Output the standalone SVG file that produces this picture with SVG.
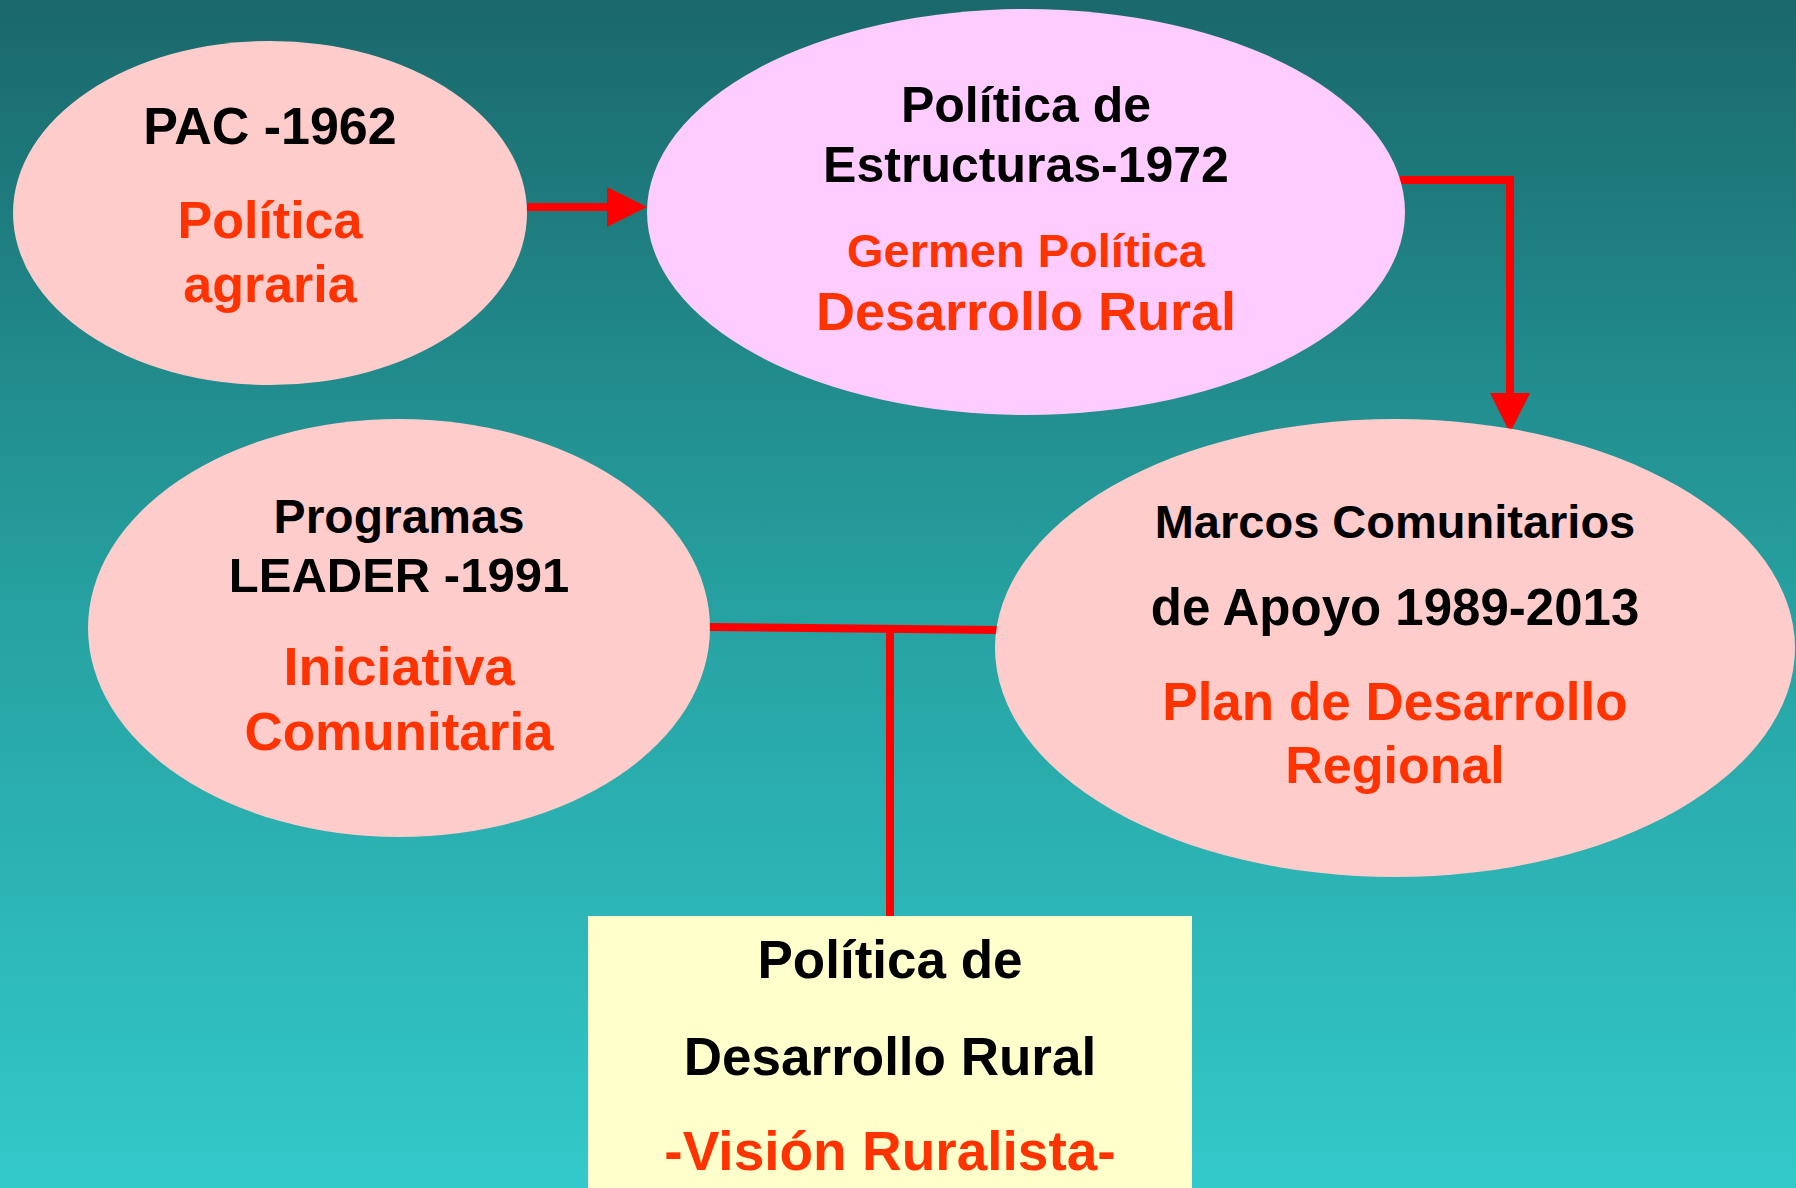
<svg xmlns="http://www.w3.org/2000/svg" width="1796" height="1188" viewBox="0 0 1796 1188">
<defs>
<linearGradient id="bg" x1="0" y1="0" x2="0" y2="1">
<stop offset="0" stop-color="#1a686b"/>
<stop offset="0.5" stop-color="#26a0a0"/>
<stop offset="1" stop-color="#33c9ca"/>
</linearGradient>
<marker id="ah" viewBox="0 0 40 40" refX="0" refY="20" markerWidth="40" markerHeight="40" markerUnits="userSpaceOnUse" orient="auto">
<path d="M0,0 L40,20 L0,40 z" fill="#ff0000"/>
</marker>
<style>
text{font-family:"Liberation Sans",Arial,sans-serif;font-weight:bold;text-anchor:middle}
.k{fill:#000000}
.r{fill:#ff3300}
.con{fill:none;stroke:#ff0000;stroke-width:8}
</style>
</defs>
<rect x="0" y="0" width="1796" height="1188" fill="url(#bg)"/>
<g id="connectors">
<path class="con" d="M527,207 H607" marker-end="url(#ah)"/>
<path class="con" d="M1400,180 H1510 V393" marker-end="url(#ah)"/>
<path class="con" d="M708,627 L997,630"/>
<path class="con" d="M890,629 V917"/>
</g>
<g id="pac">
<ellipse cx="270" cy="213" rx="257" ry="172" fill="#ffcccc"/>
<text class="k" x="270" y="144" font-size="52">PAC -1962</text>
<text class="r" x="270" y="238" font-size="52">Política</text>
<text class="r" x="270" y="302" font-size="52">agraria</text>
</g>
<g id="estructuras">
<ellipse cx="1026" cy="212" rx="379" ry="203" fill="#ffccff"/>
<text class="k" x="1026" y="122" font-size="50">Política de</text>
<text class="k" x="1026" y="182" font-size="50">Estructuras-1972</text>
<text class="r" x="1026" y="267" font-size="47">Germen Política</text>
<text class="r" x="1026" y="330" font-size="54">Desarrollo Rural</text>
</g>
<g id="leader">
<ellipse cx="399" cy="628" rx="311" ry="209" fill="#ffcccc"/>
<text class="k" x="399" y="533" font-size="48">Programas</text>
<text class="k" x="399" y="592" font-size="49">LEADER -1991</text>
<text class="r" x="399" y="685" font-size="54">Iniciativa</text>
<text class="r" x="399" y="750" font-size="53">Comunitaria</text>
</g>
<g id="marcos">
<ellipse cx="1395" cy="648" rx="400" ry="229" fill="#ffcccc"/>
<text class="k" x="1395" y="538" font-size="47">Marcos Comunitarios</text>
<text class="k" x="1395" y="625" font-size="51">de Apoyo 1989-2013</text>
<text class="r" x="1395" y="720" font-size="53">Plan de Desarrollo</text>
<text class="r" x="1395" y="783" font-size="52">Regional</text>
</g>
<g id="desarrollo-rural">
<rect x="588" y="916" width="604" height="272" fill="#ffffcc"/>
<text class="k" x="890" y="978" font-size="53">Política de</text>
<text class="k" x="890" y="1075" font-size="53">Desarrollo Rural</text>
<text class="r" x="890" y="1170" font-size="55">-Visión Ruralista-</text>
</g>
</svg>
